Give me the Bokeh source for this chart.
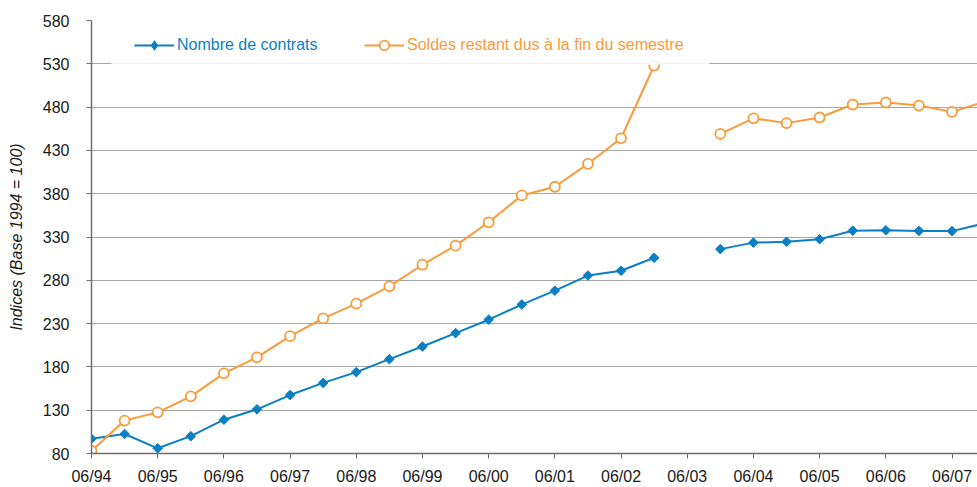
import numpy as np
from bokeh.plotting import figure
from bokeh.models import (ColumnDataSource, Range1d, FixedTicker, Legend, LegendItem,
                          BoxAnnotation)
from bokeh.embed import file_html
from bokeh.resources import INLINE

periods = ["06/94", "12/94", "06/95", "12/95", "06/96", "12/96", "06/97", "12/97",
           "06/98", "12/98", "06/99", "12/99", "06/00", "12/00", "06/01", "12/01",
           "06/02", "12/02", "06/03", "12/03", "06/04", "12/04", "06/05", "12/05",
           "06/06", "12/06", "06/07", "12/07"]

nombre_contrats = [97, 102.5, 86, 100, 119, 131, 147.5, 161.5, 174, 189, 203.5, 219,
                   234.5, 252, 268, 285.5, 291, 306, np.nan, 316, 323.5, 324.5, 327.5,
                   337.3, 337.8, 337, 336.8, 346]

soldes_restant = [83, 118, 127.5, 146, 172.5, 191, 215.5, 236, 253, 273, 298, 320,
                  347, 378, 388, 414.5, 444, 528, np.nan, 449, 467, 461.5, 468, 483,
                  485.3, 481.8, 474.5, 486.5]

y_ticks = [80, 130, 180, 230, 280, 330, 380, 430, 480, 530, 580]

label_blue = "Nombre de contrats"
label_orange = "Soldes restant dus à la fin du semestre"

BLUE = "#0b7fc3"
ORANGE = "#f99b38"
FONT = "Liberation Sans"

x = list(range(len(periods)))
src = ColumnDataSource(dict(x=x, blue=nombre_contrats, orange=soldes_restant))

p = figure(width=977, height=487, output_backend="svg", toolbar_location=None,
           x_range=Range1d(0, 26.77), y_range=Range1d(80, 580),
           min_border_left=91, min_border_right=0, min_border_top=20,
           min_border_bottom=33)
p.outline_line_color = None
p.background_fill_color = "white"

# axes
p.yaxis.ticker = FixedTicker(ticks=y_ticks)
p.xaxis.ticker = FixedTicker(ticks=[i for i in x if i % 2 == 0])
p.xaxis.major_label_overrides = {i: periods[i] for i in x if i % 2 == 0}
for ax in (p.xaxis, p.yaxis):
    ax.major_label_text_font = FONT
    ax.major_label_text_font_size = "16px"
    ax.major_label_text_color = "#1a1a1a"
    ax.axis_line_color = "#6e6e6e"
    ax.axis_line_width = 1.5
    ax.major_tick_line_color = "#6e6e6e"
    ax.major_tick_in = 0
    ax.major_tick_out = 5
    ax.minor_tick_line_color = None
p.yaxis.major_label_standoff = 17
p.xaxis.major_label_standoff = 9
p.yaxis.axis_label = "Indices (Base 1994 = 100)"
p.yaxis.axis_label_text_font = FONT
p.yaxis.axis_label_text_font_style = "italic"
p.yaxis.axis_label_text_font_size = "16px"
p.yaxis.axis_label_text_color = "#1a1a1a"
p.yaxis.axis_label_standoff = 15

p.xgrid.grid_line_color = None
p.ygrid.grid_line_color = "#a6a6a6"
p.ygrid.grid_line_width = 1

# series
lb = p.line("x", "blue", source=src, line_color=BLUE, line_width=2)
mb = p.scatter("x", "blue", source=src, marker="square", size=6.8, angle=np.pi / 4,
               fill_color=BLUE, line_color=BLUE)
lo = p.line("x", "orange", source=src, line_color=ORANGE, line_width=2)
mo = p.scatter("x", "orange", source=src, marker="circle", size=10,
               fill_color="white", line_color=ORANGE, line_width=1.8)
# hidden diamond renderer, only used to draw the legend symbol
ld = p.scatter("x", "blue", source=src, marker="diamond", fill_color=BLUE,
               line_color=BLUE, visible=False)

# white legend box
box = BoxAnnotation(left=0.6, right=18.67, bottom=528.9, top=572,
                    fill_color="white", fill_alpha=0.85, line_color=None)
p.add_layout(box)

common = dict(orientation="horizontal", label_text_font=FONT,
              label_text_font_size="16px", glyph_width=40, glyph_height=24,
              label_standoff=3, padding=5, background_fill_alpha=0,
              border_line_color=None, inactive_fill_alpha=0)
legA = Legend(items=[LegendItem(label=label_blue, renderers=[lb, ld])],
              location=(43, 396), label_text_color=BLUE, **common)
legB = Legend(items=[LegendItem(label=label_orange, renderers=[lo, mo])],
              location=(273, 396), label_text_color=ORANGE, **common)
p.add_layout(legA, "center")
p.add_layout(legB, "center")

open("out.html", "w").write(file_html(p, INLINE))
